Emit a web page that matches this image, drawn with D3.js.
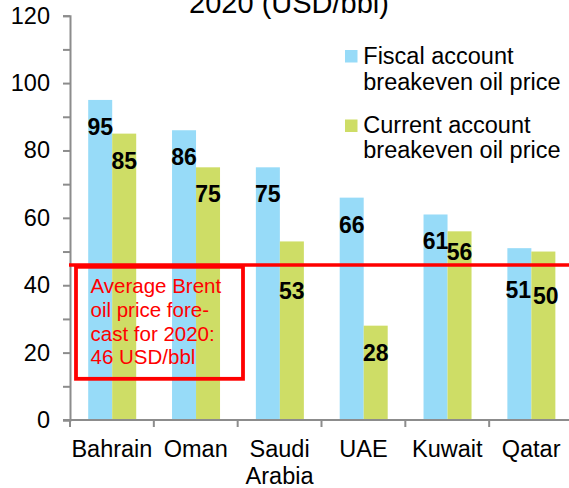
<!DOCTYPE html>
<html>
<head>
<meta charset="utf-8">
<script src="https://cdn.jsdelivr.net/npm/d3@7"></script>
<style>
  html, body { margin: 0; padding: 0; background: #fff; }
  svg { display: block; font-family: "Liberation Sans", Arial, sans-serif; }
</style>
</head>
<body>
<svg id="chart" width="569" height="488"></svg>
<script>
// GCC breakeven oil prices vs. Brent forecast, 2020 (USD/bbl)
const categories = ["Bahrain", "Oman", "Saudi Arabia", "UAE", "Kuwait", "Qatar"];
const fiscalBreakeven = [95, 86, 75, 66, 61, 51];
const currentBreakeven = [85, 75, 53, 28, 56, 50];
const seriesNames = ["Fiscal account breakeven oil price", "Current account breakeven oil price"];
const yTickValues = [0, 20, 40, 60, 80, 100, 120];
const brentForecast = 46;
const noteLines = ["Average Brent", "oil price fore-", "cast for 2020:", "46 USD/bbl"];
const titleText = "2020 (USD/bbl)";

const colors = ["#97dbf8", "#cedd66"];
const red = "#ff0000";
const axisGray = "#8c8c8c";
const textSize = 23.5;

const svg = d3.select("#chart");

const x0 = d3.scaleBand().domain(categories).range([70, 573]).padding(0);
const x1 = d3.scaleBand().domain([0, 1]).range([18.2, 66.2]).padding(0);
const y = d3.scaleLinear().domain([0, 120]).range([420, 15.7]);

// title (second line of the heading, top clipped by the frame)
svg.append("text")
  .attr("x", 289).attr("y", 13)
  .attr("text-anchor", "middle")
  .attr("font-size", 29)
  .attr("fill", "#000")
  .text(titleText);

// bars
const rows = categories.map((c, i) => ({ cat: c, vals: [fiscalBreakeven[i], currentBreakeven[i]] }));
const groups = svg.append("g").selectAll("g").data(rows).join("g")
  .attr("transform", d => `translate(${x0(d.cat)},0)`);

groups.selectAll("rect").data(d => d.vals.map((v, s) => ({ v, s }))).join("rect")
  .attr("x", d => x1(d.s))
  .attr("width", x1.bandwidth())
  .attr("y", d => y(d.v))
  .attr("height", d => y(0) - y(d.v))
  .attr("fill", d => colors[d.s]);

// axes
const yAxis = d3.axisLeft(y)
  .tickValues(d3.range(0, 121, 10))
  .tickSize(7)
  .tickPadding(13)
  .tickFormat(d => yTickValues.includes(d) ? d : "");
const gy = svg.append("g").attr("transform", "translate(70,0)").call(yAxis);
gy.select(".domain").attr("stroke", axisGray).attr("stroke-width", 2);
gy.selectAll(".tick line").attr("stroke", axisGray).attr("stroke-width", 2);
gy.selectAll(".tick text").attr("font-size", textSize).attr("fill", "#000")
  .attr("font-family", "Liberation Sans, Arial, sans-serif");

const gx = svg.append("g").attr("transform", "translate(0,420)");
gx.append("line").attr("x1", 63).attr("x2", 569).attr("y1", 0).attr("y2", 0)
  .attr("stroke", axisGray).attr("stroke-width", 2);
const boundaries = categories.map(c => x0(c)).concat([x0.range()[1]]);
gx.selectAll("line.tk").data(boundaries).join("line").attr("class", "tk")
  .attr("x1", d => d).attr("x2", d => d).attr("y1", 0).attr("y2", 7)
  .attr("stroke", axisGray).attr("stroke-width", 2);
const catText = gx.selectAll("text.cat").data(categories).join("text").attr("class", "cat")
  .attr("x", d => x0(d) + x0.bandwidth() / 2)
  .attr("y", 37)
  .attr("text-anchor", "middle")
  .attr("font-size", textSize)
  .attr("fill", "#000");
catText.each(function(d) {
  const parts = d.split(" ");
  d3.select(this).selectAll("tspan").data(parts).join("tspan")
    .attr("x", x0(d) + x0.bandwidth() / 2)
    .attr("dy", (p, i) => i === 0 ? 0 : 26.5)
    .text(p => p);
});

// Brent forecast line
const lineY = y(brentForecast);
svg.append("line")
  .attr("x1", 69).attr("x2", 569)
  .attr("y1", lineY).attr("y2", lineY)
  .attr("stroke", red).attr("stroke-width", 3.6);

// value labels, kept clear of the forecast line;
// when both labels of a pair drop below it they are staggered
const labelData = [];
rows.forEach(r => {
  const placed = r.vals.map((v, s) => {
    let base = y(v) + 35;
    const top = base - 16;
    let below = false;
    if (base > lineY - 8 && top < lineY + 8) {
      below = (top + base) / 2 >= lineY;
      base = below ? lineY + 34 : lineY - 5;
    }
    return { x: x0(r.cat) + x1(s) + x1.bandwidth() / 2, base, v, s, below };
  });
  if (placed[0].below && placed[1].below) {
    placed[0].x -= 1; placed[0].base -= 1;
    placed[1].x += 2.5; placed[1].base += 5;
  }
  labelData.push(...placed);
});
svg.append("g").selectAll("text").data(labelData).join("text")
  .attr("x", d => d.x).attr("y", d => d.base)
  .attr("text-anchor", "middle")
  .attr("font-size", 23).attr("font-weight", "bold")
  .attr("fill", "#000")
  .text(d => d.v);

// annotation box
const boxTop = lineY + 1.8;
svg.append("rect")
  .attr("x", 76).attr("y", boxTop)
  .attr("width", 167).attr("height", 112)
  .attr("fill", "none").attr("stroke", red).attr("stroke-width", 3.8);
svg.append("g").selectAll("text").data(noteLines).join("text")
  .attr("x", 90.5)
  .attr("y", (d, i) => boxTop + 26.5 + i * 23.7)
  .attr("font-size", 20.5)
  .attr("fill", red)
  .text(d => d);

// legend
const legendRows = [
  { lines: ["Fiscal account", "breakeven oil price"], color: colors[0], sq: 50, base: 64 },
  { lines: ["Current account", "breakeven oil price"], color: colors[1], sq: 119.5, base: 132.5 }
];
const lg = svg.append("g").selectAll("g").data(legendRows).join("g");
lg.append("rect").attr("x", 345).attr("y", d => d.sq).attr("width", 12.5).attr("height", 12.5)
  .attr("fill", d => d.color);
lg.append("text").attr("x", 363.3).attr("y", d => d.base)
  .attr("font-size", textSize).attr("fill", "#000")
  .selectAll("tspan").data(d => d.lines).join("tspan")
  .attr("x", 363.3)
  .attr("dy", (d, i) => i === 0 ? 0 : 25.5)
  .text(d => d);
</script>
</body>
</html>
